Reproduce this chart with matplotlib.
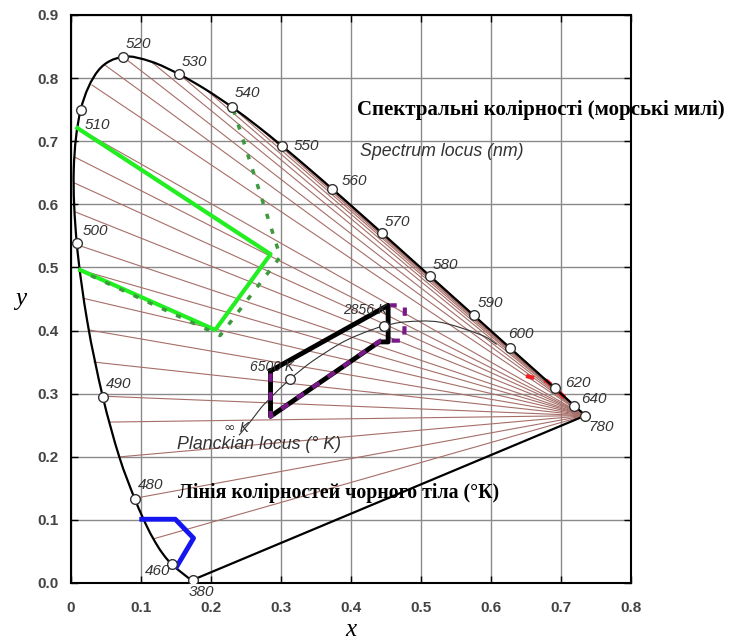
import matplotlib
matplotlib.use("Agg")
import matplotlib.pyplot as plt
from matplotlib.path import Path
from matplotlib.patches import PathPatch

# CIE 1931 spectral locus (wavelength nm, x, y)
locus_nm = [380, 400, 420, 430, 440, 450, 455, 460, 465, 470, 475, 480, 485, 490, 495,
            500, 505, 510, 515, 520, 525, 530, 535, 540, 545, 550, 555, 560, 565, 570,
            575, 580, 585, 590, 595, 600, 605, 610, 615, 620, 625, 630, 635, 640, 650,
            660, 680, 700, 780]
locus_x = [0.1741, 0.1733, 0.1714, 0.1689, 0.1644, 0.1566, 0.1510, 0.1440, 0.1355, 0.1241,
           0.1096, 0.0913, 0.0687, 0.0454, 0.0235, 0.0082, 0.0039, 0.0139, 0.0389, 0.0743,
           0.1142, 0.1547, 0.1929, 0.2296, 0.2658, 0.3016, 0.3373, 0.3731, 0.4087, 0.4441,
           0.4788, 0.5125, 0.5448, 0.5752, 0.6029, 0.6270, 0.6482, 0.6658, 0.6801, 0.6915,
           0.7006, 0.7079, 0.7140, 0.7190, 0.7260, 0.7300, 0.7334, 0.7347, 0.7347]
locus_y = [0.0050, 0.0048, 0.0051, 0.0069, 0.0109, 0.0177, 0.0227, 0.0297, 0.0399, 0.0578,
           0.0868, 0.1327, 0.2007, 0.2950, 0.4127, 0.5384, 0.6548, 0.7502, 0.8120, 0.8338,
           0.8262, 0.8059, 0.7816, 0.7543, 0.7243, 0.6923, 0.6589, 0.6245, 0.5896, 0.5547,
           0.5202, 0.4866, 0.4544, 0.4242, 0.3965, 0.3725, 0.3514, 0.3340, 0.3197, 0.3083,
           0.2993, 0.2920, 0.2859, 0.2809, 0.2740, 0.2700, 0.2666, 0.2653, 0.2653]

# labelled wavelengths
mark_nm = [380, 460, 480, 490, 500, 510, 520, 530, 540, 550, 560, 570, 580, 590, 600, 620, 640, 780]

# fan of lines from the red end to the locus
ray_x = [0.048, 0.030, 0.009, 0.005, 0.0045, 0.006, 0.0083, 0.013, 0.018, 0.025, 0.033,
         0.045, 0.056, 0.071, 0.095, 0.118,
         0.0743, 0.1142, 0.1547, 0.1929, 0.2296, 0.2658, 0.3016, 0.3373, 0.3731, 0.4441,
         0.5125, 0.5752, 0.6270, 0.6658, 0.6915, 0.7079, 0.7190]
ray_y = [0.821, 0.789, 0.721, 0.675, 0.634, 0.588, 0.536, 0.496, 0.451, 0.401, 0.350,
         0.296, 0.255, 0.200, 0.135, 0.070,
         0.8338, 0.8262, 0.8059, 0.7816, 0.7543, 0.7243, 0.6923, 0.6589, 0.6245, 0.5547,
         0.4866, 0.4242, 0.3725, 0.3340, 0.3083, 0.2920, 0.2809]
red_end = (0.7347, 0.2653)

# Planckian locus
planck_x = [0.2399, 0.2568, 0.2718, 0.2807, 0.2952, 0.3135, 0.3221, 0.3451, 0.3805,
            0.4053, 0.4369, 0.4476, 0.4770, 0.5267, 0.5857, 0.6080]
planck_y = [0.2341, 0.2565, 0.2781, 0.2884, 0.3048, 0.3236, 0.3318, 0.3516, 0.3768,
            0.3907, 0.4041, 0.4074, 0.4137, 0.4133, 0.3931, 0.3780]
planck_mark_x = [0.3135, 0.4476]
planck_mark_y = [0.3236, 0.4074]

# signal colour regions
green_x = [0.009, 0.285, 0.206, 0.013]
green_y = [0.721, 0.521, 0.401, 0.496]
green_dash_x = [0.232, 0.299, 0.213, 0.015]
green_dash_y = [0.750, 0.517, 0.392, 0.494]
blue_x = [0.101, 0.149, 0.175, 0.151]
blue_y = [0.101, 0.101, 0.071, 0.026]
white_x = [0.285, 0.285, 0.440, 0.453, 0.453, 0.285]
white_y = [0.336, 0.264, 0.382, 0.382, 0.440, 0.336]
purple_x = [0.285, 0.285, 0.442, 0.476, 0.477, 0.456]
purple_y = [0.332, 0.264, 0.384, 0.384, 0.440, 0.440]
red_x = [0.650, 0.680, 0.712]
red_y = [0.328, 0.320, 0.287]


def smooth_path(xs, ys):
    # Catmull-Rom through the points, drawn as cubic Bezier pieces
    pts = list(zip(xs, ys))
    n = len(pts)
    verts = [pts[0]]
    codes = [Path.MOVETO]
    for i in range(n - 1):
        p0 = pts[max(i - 1, 0)]
        p1 = pts[i]
        p2 = pts[i + 1]
        p3 = pts[min(i + 2, n - 1)]
        c1 = (p1[0] + (p2[0] - p0[0]) / 6, p1[1] + (p2[1] - p0[1]) / 6)
        c2 = (p2[0] - (p3[0] - p1[0]) / 6, p2[1] - (p3[1] - p1[1]) / 6)
        verts += [c1, c2, p2]
        codes += [Path.CURVE4] * 3
    return Path(verts, codes)


fig = plt.figure(figsize=(7.36, 6.41), dpi=100)
ax = fig.add_axes([0.0965, 0.0905, 0.7609, 0.8861])

for rx, ry in zip(ray_x, ray_y):
    ax.plot([red_end[0], rx], [red_end[1], ry], color="#a66e68", lw=0.8, zorder=2)

ax.add_patch(PathPatch(smooth_path(locus_x, locus_y), fill=False, ec="black", lw=1.6, zorder=4))
ax.plot([locus_x[0], locus_x[-1]], [locus_y[0], locus_y[-1]], color="black", lw=1.6, zorder=4)

ax.plot(green_x, green_y, color="#22ee22", lw=3, zorder=5)
ax.plot(green_dash_x, green_dash_y, color="#3c9a3c", lw=2.5, ls=(0, (1.5, 3)), zorder=6)
ax.plot(blue_x, blue_y, color="#1515f0", lw=3.5, zorder=5)
ax.plot(white_x, white_y, color="black", lw=3.5, zorder=5)
ax.plot(purple_x, purple_y, color="#7a1a8a", lw=3, ls=(0, (2, 2.5)), zorder=6)
ax.plot(red_x, red_y, color="#ee2020", lw=3, ls=(0, (2, 2.5)), zorder=3)

ax.add_patch(PathPatch(smooth_path(planck_x, planck_y), fill=False, ec="#333333", lw=0.8, zorder=5))
ax.plot(planck_mark_x, planck_mark_y, "o", ms=7, mfc="white", mec="#333333", mew=1, zorder=7)

mx = [locus_x[locus_nm.index(w)] for w in mark_nm]
my = [locus_y[locus_nm.index(w)] for w in mark_nm]
ax.plot(mx, my, "o", ms=7, mfc="white", mec="#333333", mew=1, zorder=7)

# label offsets (points) for each wavelength
offsets = {380: (-3, -9), 460: (-10, -5), 480: (2, 10), 490: (2, 9), 500: (4, 9),
           510: (3, -11), 520: (2, 9), 530: (2, 9), 540: (2, 10), 550: (8, 0),
           560: (7, 6), 570: (2, 8), 580: (2, 8), 590: (3, 9), 600: (-1, 10),
           620: (7, 4), 640: (5, 5), 780: (2, -8)}
for w, x0, y0 in zip(mark_nm, mx, my):
    ha = "center" if w == 460 else "left"
    ax.annotate(str(w), (x0, y0), xytext=offsets[w], textcoords="offset points",
                fontsize=11, fontstyle="italic", color="#333333", ha=ha, va="center",
                family="Liberation Sans", zorder=8)

ax.text(0.256, 0.336, "6500 K", fontsize=10, fontstyle="italic", color="#333333",
        family="Liberation Sans", zorder=8)
ax.text(0.388, 0.426, "2856 K", fontsize=10, fontstyle="italic", color="#333333",
        family="Liberation Sans", zorder=8)
ax.text(0.218, 0.240, "\u221e K", fontsize=10, fontstyle="italic", color="#333333",
        family="DejaVu Sans", zorder=8)
ax.text(0.151, 0.219, "Planckian locus (\u00b0 K)", fontsize=12.8, fontstyle="italic",
        color="#333333", family="Liberation Sans", va="center", zorder=8)
ax.text(0.413, 0.683, "Spectrum locus (nm)", fontsize=12.8, fontstyle="italic",
        color="#333333", family="Liberation Sans", va="center", zorder=8)

ax.text(0.4086, 0.75, "Спектральні колірності (морські милі)", fontsize=15,
        fontweight="bold", family="Liberation Serif", va="center", zorder=9)
ax.text(0.153, 0.1426, "Лінія колірностей чорного тіла (°К)", fontsize=14.3,
        fontweight="bold", family="Liberation Serif", va="center", zorder=9)

ax.set_xlim(0, 0.8)
ax.set_ylim(0, 0.9)
ax.set_xticks([i / 10 for i in range(9)])
ax.set_yticks([i / 10 for i in range(10)])
ax.set_xticklabels(["0"] + ["%.1f" % (i / 10) for i in range(1, 9)])
ax.set_yticklabels(["%.1f" % (i / 10) for i in range(10)])
for lab in ax.get_xticklabels() + ax.get_yticklabels():
    lab.set_fontweight("bold")
    lab.set_family("Liberation Sans")
    lab.set_fontsize(11)
    lab.set_color("#444444")
ax.tick_params(direction="in", length=5, width=1, top=True, right=True)
ax.tick_params(axis="x", pad=13)
ax.tick_params(axis="y", pad=9)
ax.grid(True, color="#8a8a8a", lw=1)
ax.set_axisbelow(True)
for s in ax.spines.values():
    s.set_linewidth(1.5)

ax.set_xlabel("x", fontsize=18, fontstyle="italic", family="Liberation Serif", labelpad=3)
ax.set_ylabel("y", fontsize=18, fontstyle="italic", family="Liberation Serif", rotation=0,
              labelpad=12, va="center")

fig.savefig("out.png", dpi=100)
